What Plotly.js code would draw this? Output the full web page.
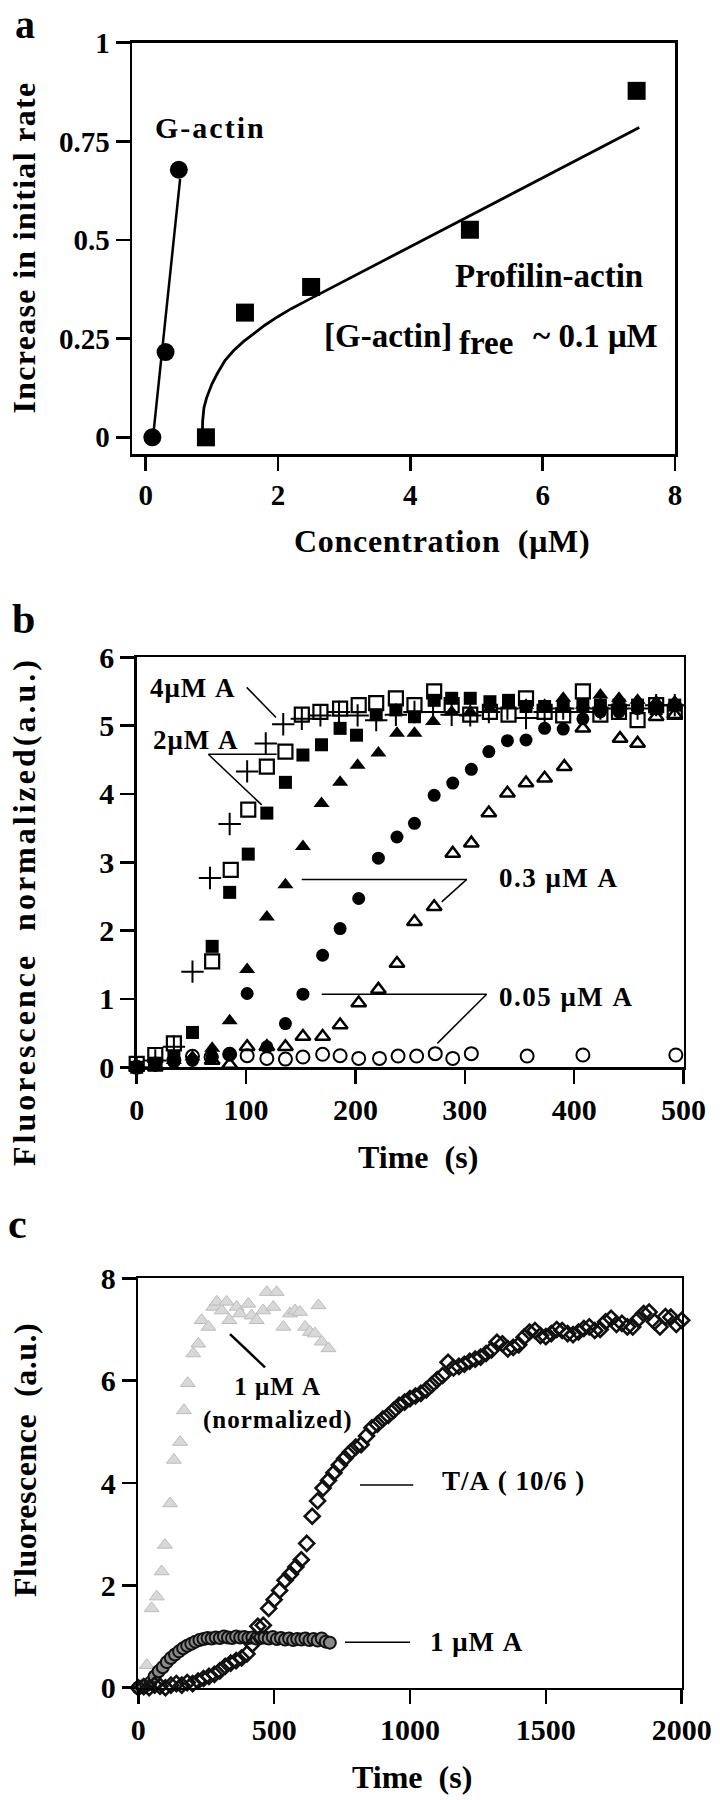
<!DOCTYPE html>
<html><head><meta charset="utf-8">
<script src="https://cdn.plot.ly/plotly-3.0.1.min.js"></script>
<style>body{margin:0;background:#fff}</style>
</head><body>
<div id="chart" style="width:720px;height:1800px"></div>
<script>
// ---------- Panel a ----------
const gX = [0.1, 0.3, 0.5];
const gY = [0.0, 0.216, 0.678];
const gFitX = [0.11, 0.52];
const gFitY = [0.0, 0.655];
const pX = [0.91, 1.5, 2.5, 4.9, 7.42];
const pY = [0.0, 0.316, 0.381, 0.526, 0.878];
const pFitX = [0.855, 0.86, 0.88, 0.92, 1.0, 1.08, 1.2, 1.33, 1.48, 1.63, 1.8, 1.99, 2.2, 2.44, 3.0, 4.0, 5.0, 6.0, 7.46];
const pFitY = [0.0, 0.04, 0.075, 0.10, 0.135, 0.161, 0.195, 0.220, 0.243, 0.263, 0.284, 0.305, 0.326, 0.347, 0.396, 0.483, 0.570, 0.657, 0.785];
const aXTicks = [0, 2, 4, 6, 8];
const aYTicks = [0, 0.25, 0.5, 0.75, 1];
const aYTickText = ['0', '0.25', '0.5', '0.75', '1'];

// ---------- Panel b ----------
const crossT = [0, 17, 34, 51, 67, 85, 101, 118, 134, 151, 168, 185, 202, 219, 237, 254, 271, 288, 305, 322, 339, 356, 373, 390, 407, 424, 441, 458, 475, 492];
const crossV = [0, 0.1, 0.3, 1.40, 2.77, 3.56, 4.33, 4.74, 5.02, 5.1, 5.15, 5.2, 5.15, 5.08, 5.16, 5.2, 5.2, 5.16, 5.15, 5.2, 5.25, 5.11, 5.2, 5.25, 5.2, 5.25, 5.3, 5.25, 5.3, 5.3];
const oSqT = [0, 17, 34, 69, 86, 102, 119, 136, 151, 168, 186, 203, 219, 237, 254, 272, 288, 305, 323, 340, 356, 373, 390, 408, 424, 441, 458, 475, 492];
const oSqV = [0.05, 0.18, 0.35, 1.55, 2.89, 3.77, 4.40, 4.62, 5.16, 5.20, 5.25, 5.30, 5.33, 5.40, 5.30, 5.50, 5.3, 5.16, 5.2, 5.16, 5.40, 5.2, 5.15, 5.50, 5.16, 5.2, 5.08, 5.3, 5.2];
const fSqT = [0, 17, 34, 51, 69, 85, 102, 119, 136, 152, 169, 186, 201, 219, 237, 254, 272, 288, 305, 323, 340, 356, 373, 390, 408, 424, 441, 458, 475, 492];
const fSqV = [0, 0.06, 0.16, 0.51, 1.77, 2.56, 3.12, 3.72, 4.17, 4.57, 4.72, 4.96, 4.86, 5.16, 5.23, 5.13, 5.37, 5.40, 5.40, 5.35, 5.37, 5.28, 5.28, 5.28, 5.3, 5.3, 5.3, 5.3, 5.25, 5.3];
const fTriT = [0, 17, 34, 51, 69, 85, 101, 119, 136, 152, 169, 186, 202, 221, 238, 254, 271, 288, 305, 323, 340, 356, 373, 390, 408, 424, 441, 458, 475, 492];
const fTriV = [0, 0.05, 0.1, 0.15, 0.28, 0.68, 1.43, 2.20, 2.67, 3.23, 3.86, 4.17, 4.42, 4.6, 4.89, 4.89, 5.06, 5.2, 5.2, 5.25, 5.3, 5.3, 5.3, 5.4, 5.3, 5.45, 5.4, 5.37, 5.35, 5.35];
const fCirT = [0, 17, 34, 51, 69, 85, 101, 119, 136, 152, 170, 186, 203, 221, 238, 254, 272, 289, 306, 322, 339, 356, 373, 390, 408, 424, 441, 458, 475, 492];
const fCirV = [0, 0.03, 0.08, 0.1, 0.15, 0.2, 1.08, 0.3, 0.64, 1.07, 1.64, 2.03, 2.47, 3.06, 3.37, 3.57, 3.98, 4.16, 4.36, 4.62, 4.78, 4.79, 4.96, 4.95, 5.1, 5.2, 5.2, 5.25, 5.25, 5.3];
const oTriT = [0, 17, 34, 51, 69, 85, 101, 119, 136, 152, 170, 186, 203, 221, 238, 254, 272, 289, 306, 322, 339, 356, 373, 391, 408, 442, 458, 475, 492];
const oTriV = [0, 0, -0.04, -0.04, 0.1, 0.04, 0.3, 0.3, 0.3, 0.45, 0.45, 0.62, 0.94, 1.14, 1.52, 2.13, 2.35, 3.13, 3.28, 3.72, 4.01, 4.16, 4.23, 4.40, 4.96, 4.81, 4.74, 5.13, 5.16];
const oCirT = [0, 17, 34, 51, 68, 85, 101, 119, 136, 152, 170, 186, 203, 222, 239, 256, 273, 289, 306, 357, 408, 493];
const oCirV = [0, 0.05, 0.1, 0.16, 0.15, 0.19, 0.17, 0.13, 0.12, 0.15, 0.19, 0.17, 0.13, 0.13, 0.165, 0.165, 0.2, 0.13, 0.2, 0.165, 0.18, 0.18];
const bXTicks = [0, 100, 200, 300, 400, 500];
const bYTicks = [0, 1, 2, 3, 4, 5, 6];

// ---------- Panel c ----------
const normT = [10, 31, 49, 68, 86, 98, 117, 131, 154, 168, 182, 202, 221, 233, 258, 276, 289, 307, 325, 335, 362, 374, 405, 417, 436, 460, 473, 497, 509, 534, 558, 577, 595, 614, 632, 650, 663, 675, 700];
const normV = [0.05, 0.44, 1.55, 1.78, 2.27, 2.79, 3.60, 4.45, 4.80, 5.42, 5.95, 6.53, 6.72, 7.18, 7.05, 7.44, 7.54, 7.37, 7.54, 7.18, 7.44, 7.31, 7.50, 7.27, 7.18, 7.37, 7.73, 7.44, 7.73, 7.05, 7.31, 7.37, 7.34, 7.05, 6.95, 6.92, 7.47, 6.76, 6.63];
const actT = [0, 15, 30, 45, 60, 75, 90, 105, 120, 135, 150, 165, 180, 195, 210, 225, 240, 255, 270, 285, 300, 315, 330, 345, 360, 375, 390, 405, 420, 435, 450, 465, 480, 495, 510, 525, 540, 555, 570, 585, 600, 615, 630, 645, 660, 675, 690, 705];
const actV = [0, 0.02, 0.05, 0.1, 0.22, 0.32, 0.40, 0.50, 0.58, 0.65, 0.71, 0.77, 0.82, 0.86, 0.90, 0.93, 0.95, 0.97, 0.96, 0.98, 0.97, 1.0, 0.98, 0.97, 1.0, 0.98, 0.99, 0.97, 0.98, 0.96, 0.97, 0.98, 0.96, 0.99, 0.95, 0.97, 0.94, 0.96, 0.93, 0.95, 0.94, 0.96, 0.93, 0.95, 0.92, 0.96, 0.90, 0.88];
const taT = [0, 20, 40, 60, 80, 100, 120, 140, 160, 180, 200, 220, 240, 260, 280, 300, 320, 340, 360, 380, 400, 420, 440, 460, 480, 500, 520, 540, 560, 580, 600, 620, 640, 660, 680, 700, 720, 740, 760, 780, 800, 820, 840, 860, 880, 900, 920, 940, 960, 980, 1000, 1020, 1040, 1060, 1080, 1100, 1120, 1140, 1160, 1180, 1200, 1220, 1240, 1260, 1280, 1300, 1320, 1340, 1360, 1380, 1400, 1420, 1440, 1460, 1480, 1500, 1520, 1540, 1560, 1580, 1600, 1620, 1640, 1660, 1680, 1700, 1720, 1740, 1760, 1780, 1800, 1820, 1840, 1860, 1880, 1900, 1920, 1940, 1960, 1980, 2000];
const taV = [0, 0.02, 0.0, 0.05, 0.03, 0.0, 0.05, 0.08, 0.05, 0.1, 0.08, 0.13, 0.18, 0.22, 0.26, 0.33, 0.42, 0.48, 0.53, 0.58, 0.66, 0.85, 1.20, 1.22, 1.55, 1.72, 1.90, 2.10, 2.22, 2.36, 2.50, 2.82, 3.35, 3.65, 3.90, 4.05, 4.20, 4.35, 4.48, 4.60, 4.70, 4.75, 4.92, 5.08, 5.15, 5.25, 5.32, 5.42, 5.52, 5.58, 5.65, 5.70, 5.75, 5.82, 5.92, 6.02, 6.10, 6.36, 6.25, 6.28, 6.32, 6.38, 6.42, 6.46, 6.53, 6.60, 6.75, 6.72, 6.62, 6.65, 6.70, 6.85, 6.95, 6.98, 6.88, 6.86, 6.92, 7.0, 6.98, 6.92, 6.90, 6.95, 7.02, 7.05, 6.98, 7.0, 7.15, 7.22, 7.10, 7.12, 7.05, 7.05, 7.20, 7.31, 7.34, 7.15, 7.05, 7.25, 7.24, 7.10, 7.18];
const cXTicks = [0, 500, 1000, 1500, 2000];
const cYTicks = [0, 2, 4, 6, 8];

// ---------- helpers ----------
const W = 720, H = 1800;
const px = p => p / W;
const py = p => 1 - p / H;
const FONT = 'Liberation Serif, Times New Roman, serif';

function sc(x, y, xa, ya, marker) {
  return {x: x, y: y, xaxis: xa, yaxis: ya, type: 'scatter', mode: 'markers',
    marker: marker, cliponaxis: false, showlegend: false, hoverinfo: 'skip'};
}
function ln(x, y, xa, ya, w) {
  return {x: x, y: y, xaxis: xa, yaxis: ya, type: 'scatter', mode: 'lines',
    line: {color: 'black', width: w}, cliponaxis: false, showlegend: false, hoverinfo: 'skip'};
}

const data = [
  ln(gFitX, gFitY, 'x', 'y', 2.5),
  ln(pFitX, pFitY, 'x', 'y', 2.8),
  sc(gX, gY, 'x', 'y', {symbol: 'circle', size: 18, color: 'black'}),
  sc(pX, pY, 'x', 'y', {symbol: 'square', size: 18, color: 'black'}),

  sc(oCirT, oCirV, 'x2', 'y2', {symbol: 'circle-open', size: 13, color: 'black', line: {width: 2, color: 'black'}}),
  sc(oTriT, oTriV, 'x2', 'y2', {symbol: 'triangle-up-open', size: 13, color: 'black', line: {width: 2.5, color: 'black'}}),
  sc(fCirT, fCirV, 'x2', 'y2', {symbol: 'circle', size: 13, color: 'black'}),
  sc(fTriT, fTriV, 'x2', 'y2', {symbol: 'triangle-up', size: 14, color: 'black'}),
  sc(fSqT, fSqV, 'x2', 'y2', {symbol: 'square', size: 13, color: 'black'}),
  sc(crossT, crossV, 'x2', 'y2', {symbol: 'cross-thin', size: 16, color: 'black', line: {width: 2, color: 'black'}}),
  sc(oSqT, oSqV, 'x2', 'y2', {symbol: 'square-open', size: 14, color: 'black', line: {width: 2.2, color: 'black'}}),

  sc(normT, normV, 'x3', 'y3', {symbol: 'triangle-up', size: 13, color: '#d8d8d8', line: {width: 1, color: '#bcbcbc'}}),
  sc(actT, actV, 'x3', 'y3', {symbol: 'circle', size: 12, color: '#8a8a8a', line: {width: 2, color: '#111'}}),
  sc(taT, taV, 'x3', 'y3', {symbol: 'diamond-open', size: 11.5, color: '#111', line: {width: 2.6, color: '#111'}})
];

const axBase = {
  showline: true, mirror: true, linecolor: 'black', linewidth: 2.5,
  ticks: 'outside', ticklen: 14, tickwidth: 2.5, tickcolor: 'black',
  showgrid: false, zeroline: false, fixedrange: true,
  tickfont: {family: FONT, size: 30, color: 'black', weight: 'bold'}
};
function ax(o) { return Object.assign({}, JSON.parse(JSON.stringify(axBase)), o); }

function ann(text, x, y, xref, yref, size, opts) {
  return Object.assign({text: text, x: x, y: y, xref: xref, yref: yref, showarrow: false,
    font: {family: FONT, size: size, color: 'black', weight: 'bold'},
    xanchor: 'center', yanchor: 'middle'}, opts || {});
}
function seg(x0, y0, x1, y1, xr, yr, w) {
  return {type: 'line', x0: x0, y0: y0, x1: x1, y1: y1, xref: xr, yref: yr, line: {color: 'black', width: w || 1.5}};
}
const sp = '\u00A0';
const ls = (s, t) => '<span style="letter-spacing:' + s + 'px">' + t + '</span>';

const layout = {
  width: W, height: H, margin: {l: 0, r: 0, t: 0, b: 0},
  paper_bgcolor: 'white', plot_bgcolor: 'white', showlegend: false,
  font: {family: FONT, color: 'black', weight: 'bold'},
  xaxis: ax({domain: [px(132), px(675)], anchor: 'y', range: [-0.2075, 8], tickvals: aXTicks,
    tickfont: {family: FONT, size: 29, color: 'black', weight: 'bold'}}),
  yaxis: ax({domain: [py(454), py(42.7)], anchor: 'x', range: [-0.0423, 1], tickvals: aYTicks, ticktext: aYTickText,
    tickfont: {family: FONT, size: 29, color: 'black', weight: 'bold'}}),
  xaxis2: ax({domain: [px(136.7), px(683.5)], anchor: 'y2', range: [0, 500], tickvals: bXTicks}),
  yaxis2: ax({domain: [py(1067.3), py(657.3)], anchor: 'x2', range: [0, 6], tickvals: bYTicks}),
  xaxis3: ax({domain: [px(138.3), px(681.7)], anchor: 'y3', range: [0, 2000], tickvals: cXTicks}),
  yaxis3: ax({domain: [py(1687.7), py(1278.3)], anchor: 'x3', range: [0, 8], tickvals: cYTicks}),
  annotations: [
    // panel letters
    ann('a', px(25), 1, 'paper', 'paper', 40, {yanchor: 'top'}),
    ann('b', px(23), py(619), 'paper', 'paper', 42),
    ann('c', px(17), py(1224), 'paper', 'paper', 42),
    // axis titles
    ann(ls(1.3, 'Increase' + sp + 'in' + sp + 'initial' + sp + 'rate'), px(24), py(247.5), 'paper', 'paper', 32, {textangle: -90}),
    ann(ls(0.7, 'Concentration' + sp + sp + '(\u03BCM)'), px(442), py(541), 'paper', 'paper', 32),
    ann(ls(3, 'Fluorescence' + sp + sp + 'normalized(a.u.)'), px(24), py(912), 'paper', 'paper', 32, {textangle: -90}),
    ann('Time' + sp + sp + '(s)', px(418), py(1157), 'paper', 'paper', 32),
    ann(ls(0.5, 'Fluorescence' + sp + sp + '(a.u.)'), px(25), py(1460), 'paper', 'paper', 32, {textangle: -90}),
    ann('Time' + sp + sp + '(s)', px(411.5), py(1777), 'paper', 'paper', 32),
    // panel a labels
    ann(ls(2, 'G-actin'), 0.11, 0.786, 'x', 'y', 30, {xanchor: 'left'}),
    ann('Profilin-actin', 7.545, 0.409, 'x', 'y', 33, {xanchor: 'right'}),
    ann('[G-actin]', 2.665, 0.257, 'x', 'y', 33, {xanchor: 'left'}),
    ann('free', 4.71, 0.238, 'x', 'y', 33, {xanchor: 'left'}),
    ann('~' + sp + '0.1' + sp + '\u03BCM', 5.82, 0.257, 'x', 'y', 33, {xanchor: 'left'}),
    // panel b labels
    ann(ls(1, '4\u03BCM' + sp + 'A'), 92.9, 5.55, 'x2', 'y2', 27, {xanchor: 'right'}),
    ann(ls(1, '2\u03BCM' + sp + 'A'), 95.1, 4.79, 'x2', 'y2', 27, {xanchor: 'right'}),
    ann(ls(1.5, '0.3' + sp + '\u03BCM' + sp + 'A'), 329.2, 2.77, 'x2', 'y2', 27, {xanchor: 'left'}),
    ann(ls(1.5, '0.05' + sp + '\u03BCM' + sp + 'A'), 329.2, 1.03, 'x2', 'y2', 27, {xanchor: 'left'}),
    // panel c labels
    ann(ls(1, '1' + sp + '\u03BCM' + sp + 'A<br>(normalized)'), 512, 5.55, 'x3', 'y3', 25),
    ann(ls(1, 'T/A' + sp + '(' + sp + '10/6' + sp + ')'), 1110, 4.04, 'x3', 'y3', 27, {xanchor: 'left'}),
    ann(ls(1, '1' + sp + '\u03BCM' + sp + 'A'), 1067, 0.90, 'x3', 'y3', 27, {xanchor: 'left'})
  ],
  shapes: [
    // panel b leaders
    seg(100.6, 5.56, 127.4, 5.12, 'x2', 'y2'),
    seg(65.5, 4.58, 128, 4.58, 'x2', 'y2'),
    seg(65.5, 4.58, 114.3, 3.84, 'x2', 'y2'),
    seg(150.9, 2.75, 301.8, 2.75, 'x2', 'y2'),
    seg(301.8, 2.75, 278.9, 2.42, 'x2', 'y2'),
    seg(169.2, 1.07, 320, 1.07, 'x2', 'y2'),
    seg(320, 1.07, 274.9, 0.35, 'x2', 'y2'),
    // panel c leaders
    seg(337.5, 6.91, 466.4, 6.26, 'x3', 'y3', 2.5),
    seg(816, 3.96, 1012, 3.96, 'x3', 'y3', 1.5),
    seg(760.7, 0.887, 1000, 0.887, 'x3', 'y3', 1.5)
  ]
};

Plotly.newPlot('chart', data, layout, {displayModeBar: false, staticPlot: true});
</script></body></html>
